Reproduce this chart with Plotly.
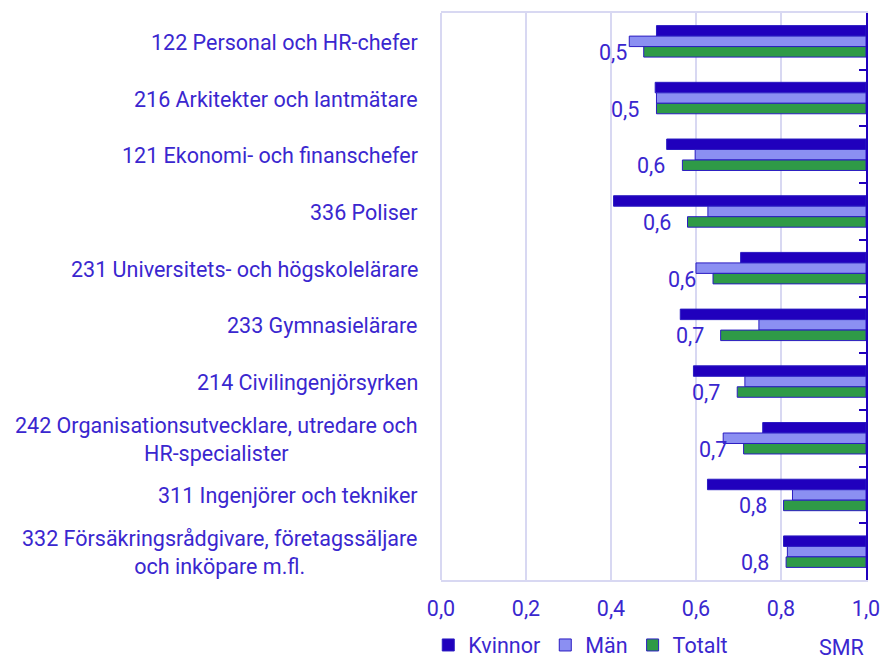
import plotly.graph_objects as go

categories = [
    "122 Personal och HR-chefer",
    "216 Arkitekter och lantmätare",
    "121 Ekonomi- och finanschefer",
    "336 Poliser",
    "231 Universitets- och högskolelärare",
    "233 Gymnasielärare",
    "214 Civilingenjörsyrken",
    "242 Organisationsutvecklare, utredare och<br>HR-specialister",
    "311 Ingenjörer och tekniker",
    "332 Försäkringsrådgivare, företagssäljare<br>och inköpare m.fl.",
]
kvinnor = [0.507, 0.504, 0.531, 0.406, 0.705, 0.563, 0.594, 0.757, 0.627, 0.806]
man = [0.443, 0.507, 0.598, 0.628, 0.600, 0.748, 0.715, 0.664, 0.827, 0.815]
totalt = [0.477, 0.507, 0.568, 0.580, 0.640, 0.658, 0.697, 0.712, 0.806, 0.812]
series_names = ["Kvinnor", "Män", "Totalt"]
x_ticks = [0.0, 0.2, 0.4, 0.6, 0.8, 1.0]

FONT = "Roboto"
FS = 21.5
TXT = "#3a27cf"
DARK = "#2000bd"
OUTLINE = "#2b1cc2"
GRID = "#d8d8f2"
colors = [DARK, "#8b8ff2", "#2f9a47"]

fig = go.Figure()
for name, vals, col in zip(series_names, [kvinnor, man, totalt], colors):
    fig.add_trace(go.Bar(
        name=name, orientation="h", y=categories,
        base=vals, x=[1 - v for v in vals],
        marker=dict(color=col, line=dict(color=OUTLINE, width=1)),
        hoverinfo="skip",
    ))

annotations = []
for cat in categories:
    annotations.append(dict(
        x=0, xref="paper", xanchor="right", xshift=-21,
        y=cat, yref="y", yanchor="middle", yshift=-1,
        text=cat, showarrow=False, align="center",
        font=dict(family=FONT, size=FS, color=TXT),
    ))
for cat, v in zip(categories, totalt):
    annotations.append(dict(
        x=v, xref="x", xanchor="right", xshift=-15,
        y=cat, yref="y", yanchor="middle", yshift=-11,
        text=f"{v:.1f}".replace(".", ","), showarrow=False,
        font=dict(family=FONT, size=FS, color=TXT),
    ))
annotations.append(dict(
    x=1, xref="paper", xanchor="right", y=0, yref="paper", yanchor="middle",
    yshift=-67, text="SMR", showarrow=False,
    font=dict(family=FONT, size=FS, color=TXT),
))

fig.update_layout(
    width=880, height=657,
    margin=dict(l=441, r=14, t=13, b=77, autoexpand=False),
    paper_bgcolor="white", plot_bgcolor="white",
    barmode="group", bargap=0.445, bargroupgap=0,
    separators=", ",
    font=dict(family=FONT, size=FS, color=TXT),
    showlegend=True,
    legend=dict(orientation="h", x=-0.03, xanchor="left", y=-0.1146, yanchor="middle",
                font=dict(family=FONT, size=FS, color=TXT),
                traceorder="normal", bgcolor="rgba(0,0,0,0)"),
    annotations=annotations,
    xaxis=dict(range=[0, 1], tickvals=x_ticks, tickformat=".1f",
               showgrid=True, gridcolor=GRID, gridwidth=2,
               zeroline=True, zerolinecolor=GRID, zerolinewidth=2,
               showline=True, linecolor=GRID, linewidth=2, mirror=True,
               ticks="", ticklabelstandoff=8, ticklabeloverflow="allow",
               tickfont=dict(family=FONT, size=FS, color=TXT),
               fixedrange=True),
    yaxis=dict(autorange="reversed", side="right", showticklabels=False,
               showgrid=False, showline=True, linecolor=DARK, linewidth=2,
               ticks="inside", tickson="boundaries", ticklen=7, tickwidth=2,
               tickcolor=DARK, fixedrange=True),
)

fig.write_html(
    "out.html",
    config={"displayModeBar": False},
    post_script="document.body.style.margin='0';document.body.style.overflow='hidden';",
)
